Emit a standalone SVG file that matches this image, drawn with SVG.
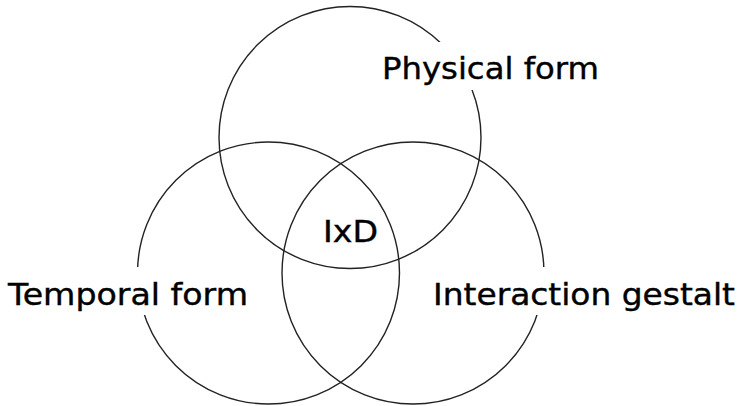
<svg xmlns="http://www.w3.org/2000/svg" width="742" height="406" viewBox="0 0 742 406">
<style>
.c{fill:none;stroke:#222;stroke-width:1.4}
.t{font-family:"DejaVu Sans","Verdana",sans-serif;font-size:31px;fill:#000;stroke:#000;stroke-width:0.4}
.bg{fill:#fff}
</style>
<rect width="742" height="406" fill="#fff"/>
<g id="physical-circle"><circle class="c" cx="350" cy="137.5" r="131"/></g>
<g id="temporal-circle"><circle class="c" cx="268.5" cy="273" r="131"/></g>
<g id="interaction-circle"><circle class="c" cx="413" cy="273" r="131"/></g>
<g id="physical-form">
<rect class="bg" x="374" y="42" width="232" height="48"/>
<text class="t" x="382" y="79" textLength="217" lengthAdjust="spacingAndGlyphs">Physical form</text>
</g>
<g id="temporal-form">
<rect class="bg" x="2" y="267" width="252" height="48"/>
<text class="t" x="8" y="305" textLength="240" lengthAdjust="spacingAndGlyphs">Temporal form</text>
</g>
<g id="interaction-gestalt">
<rect class="bg" x="427" y="267" width="312" height="48"/>
<text class="t" x="433" y="305" textLength="302" lengthAdjust="spacingAndGlyphs">Interaction gestalt</text>
</g>
<g id="ixd">
<text class="t" x="323" y="242" textLength="55" lengthAdjust="spacingAndGlyphs">IxD</text>
</g>
<g id="connectors"></g>
</svg>
